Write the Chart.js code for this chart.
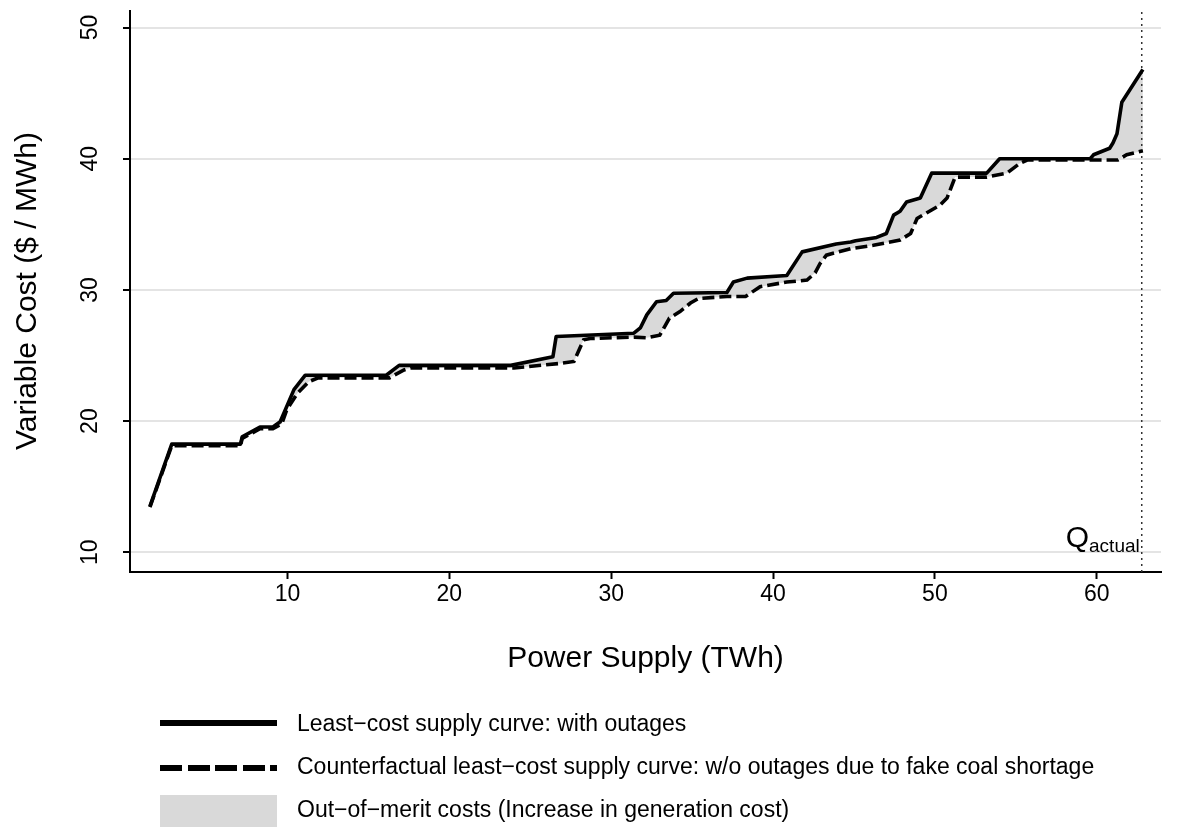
<!DOCTYPE html>
<html>
<head>
<meta charset="utf-8">
<script src="https://cdn.jsdelivr.net/npm/chart.js@4/dist/chart.umd.min.js"></script>
<style>
body { margin: 0; background: #fff; font-family: "Liberation Sans", Arial, sans-serif; color: #000; }
#wrap { position: relative; width: 1182px; height: 831px; overflow: hidden; }
#c { position: absolute; left: 0; top: 0; }
.t { position: absolute; white-space: nowrap; }
#xtitle { left: 130px; width: 1031px; top: 642px; font-size: 30px; line-height: 30px; text-align: center; }
#ytitle { left: -174px; width: 400px; top: 276px; font-size: 30px; line-height: 30px; text-align: center; transform: rotate(-90deg); }
.key { position: absolute; left: 160px; width: 117px; }
.lab { position: absolute; left: 297px; font-size: 23px; line-height: 23px; white-space: nowrap; }
</style>
</head>
<body>
<div id="wrap">
  <canvas id="c" width="1182" height="831"></canvas>
  <div class="t" id="xtitle"></div>
  <div class="t" id="ytitle"></div>
  <div id="legend"></div>
</div>
<script>
// supply curve with outages (TWh, $/MWh)
const outageQ = [1.5, 2.85, 7.1, 7.2, 8.3, 9.1, 9.55, 10.4, 11.1, 16.1,
  16.9, 23.8, 26.4, 26.6, 31.4, 31.8, 32.2, 32.8, 33.4, 33.85,
  37.15, 37.55, 38.4, 40.85, 41.8, 43.9, 44.8, 45.1, 46.4, 47.0,
  47.45, 47.85, 48.25, 49.1, 49.8, 53.2, 54.0, 59.6, 59.8, 60.8,
  61.0, 61.25, 61.55, 62.85];
const outageCost = [13.5, 18.25, 18.25, 18.8, 19.55, 19.55, 19.95, 22.4, 23.5, 23.5,
  24.25, 24.25, 24.9, 26.45, 26.7, 27.1, 28.1, 29.1, 29.2, 29.75,
  29.8, 30.6, 30.9, 31.1, 32.9, 33.5, 33.65, 33.75, 34.0, 34.3,
  35.7, 36.0, 36.7, 37.0, 38.9, 38.9, 40.0, 40.0, 40.3, 40.8,
  41.2, 41.9, 44.3, 46.8];

// counterfactual supply curve (no fake coal shortage outages)
const cfQ = [1.5, 2.85, 7.1, 7.2, 8.3, 9.1, 9.65, 9.95, 10.6, 11.3,
  11.9, 16.3, 17.2, 17.6, 24.0, 26.85, 27.7, 28.3, 28.7, 31.4,
  32.2, 33.0, 33.6, 34.25, 34.9, 35.4, 37.15, 38.3, 39.2, 40.85,
  42.1, 42.6, 42.9, 43.3, 44.8, 46.2, 47.85, 48.5, 48.9, 50.3,
  50.75, 51.25, 53.2, 54.45, 55.25, 55.7, 61.3, 61.85, 62.85];
const cfCost = [13.45, 18.13, 18.13, 18.68, 19.43, 19.43, 19.8, 20.85, 22.1, 23.0,
  23.3, 23.3, 23.9, 24.05, 24.05, 24.4, 24.55, 26.2, 26.3, 26.4,
  26.35, 26.55, 27.85, 28.35, 29.0, 29.35, 29.5, 29.5, 30.25, 30.6,
  30.75, 31.3, 32.0, 32.65, 33.15, 33.4, 33.8, 34.3, 35.45, 36.45,
  37.0, 38.6, 38.6, 38.9, 39.65, 39.9, 39.9, 40.3, 40.6];

const qActual = 62.78;
const xTicks = [10, 20, 30, 40, 50, 60];
const yTicks = [10, 20, 30, 40, 50];
const xRange = [0.27, 63.97];
const yRange = [8.5, 51.26];
const xTitle = 'Power Supply (TWh)';
const yTitle = 'Variable Cost ($ / MWh)';
const qMain = 'Q';
const qSub = 'actual';
const legendLabels = [
  'Least\u2212cost supply curve: with outages',
  'Counterfactual least\u2212cost supply curve: w/o outages due to fake coal shortage',
  'Out\u2212of\u2212merit costs (Increase in generation cost)'
];

const FONT = '"Liberation Sans", Arial, sans-serif';
Chart.defaults.font.family = FONT;
Chart.defaults.color = '#000';

document.getElementById('xtitle').textContent = xTitle;
document.getElementById('ytitle').textContent = yTitle;

// legend (html)
const leg = document.getElementById('legend');
const keyStyles = [
  'top:720px;height:6px;background:#000;',
  'top:765px;height:6px;background:repeating-linear-gradient(90deg,#000 0 22px,transparent 22px 27.5px);',
  'top:795px;height:32px;background:#d9d9d9;'
];
const labTops = [712, 755, 798];
legendLabels.forEach((txt, i) => {
  const k = document.createElement('div');
  k.className = 'key';
  k.style.cssText = keyStyles[i];
  leg.appendChild(k);
  const l = document.createElement('div');
  l.className = 'lab';
  l.style.top = labTops[i] + 'px';
  l.textContent = txt;
  leg.appendChild(l);
});

const pts = (xs, ys) => xs.map((v, i) => ({x: v, y: ys[i]}));

// y tick labels rotated + Q_actual label
const annot = {
  id: 'annot',
  afterDraw(chart) {
    const {ctx, scales: {x, y}} = chart;
    ctx.save();
    ctx.fillStyle = '#000';
    ctx.font = '23px ' + FONT;
    ctx.textAlign = 'center';
    ctx.textBaseline = 'alphabetic';
    yTicks.forEach(v => {
      ctx.save();
      ctx.translate(y.right - 33, y.getPixelForValue(v));
      ctx.rotate(-Math.PI / 2);
      ctx.fillText(String(v), 0, 0);
      ctx.restore();
    });
    const xq = x.getPixelForValue(qActual);
    const yb = y.getPixelForValue(yTicks[0]);
    ctx.textAlign = 'right';
    ctx.font = '19px ' + FONT;
    ctx.fillText(qSub, xq - 2, yb);
    const w = ctx.measureText(qSub).width;
    ctx.font = '30px ' + FONT;
    ctx.fillText(qMain, xq - 2 - w, yb - 5);
    ctx.restore();
  }
};

new Chart(document.getElementById('c'), {
  type: 'line',
  data: {
    datasets: [
      {
        label: legendLabels[0],
        data: pts(outageQ, outageCost),
        borderColor: '#000',
        borderWidth: 3.6,
        backgroundColor: '#d9d9d9',
        fill: '+1',
        pointRadius: 0,
        tension: 0,
        borderJoinStyle: 'round'
      },
      {
        label: legendLabels[1],
        data: pts(cfQ, cfCost),
        borderColor: '#000',
        borderWidth: 3.6,
        borderDash: [12, 5],
        fill: false,
        pointRadius: 0,
        tension: 0
      },
      {
        label: 'Q actual',
        data: [{x: qActual, y: yRange[0]}, {x: qActual, y: yRange[1]}],
        borderColor: '#333',
        borderWidth: 1.5,
        borderDash: [2, 4],
        fill: false,
        pointRadius: 0
      }
    ]
  },
  options: {
    responsive: false,
    animation: false,
    layout: { padding: { left: 0, top: 11, right: 21, bottom: 219 } },
    plugins: {
      legend: { display: false },
      tooltip: { enabled: false },
      filler: { drawTime: 'beforeDatasetsDraw' }
    },
    scales: {
      x: {
        type: 'linear',
        min: xRange[0],
        max: xRange[1],
        afterBuildTicks: s => { s.ticks = xTicks.map(v => ({value: v})); },
        afterFit: s => { s.height = 40; },
        ticks: { font: { size: 23 }, color: '#000', padding: 2, maxRotation: 0, autoSkip: false },
        grid: { drawOnChartArea: false, tickLength: 7, tickWidth: 2, tickColor: '#000' },
        border: { display: true, color: '#000', width: 2 }
      },
      y: {
        type: 'linear',
        min: yRange[0],
        max: yRange[1],
        afterBuildTicks: s => { s.ticks = yTicks.map(v => ({value: v})); },
        afterFit: s => { s.width = 130; },
        ticks: { display: false },
        grid: { color: '#e4e4e4', lineWidth: 2, tickLength: 7, tickWidth: 2, tickColor: '#000' },
        border: { display: true, color: '#000', width: 2 }
      }
    }
  },
  plugins: [annot]
});
</script>
</body>
</html>
